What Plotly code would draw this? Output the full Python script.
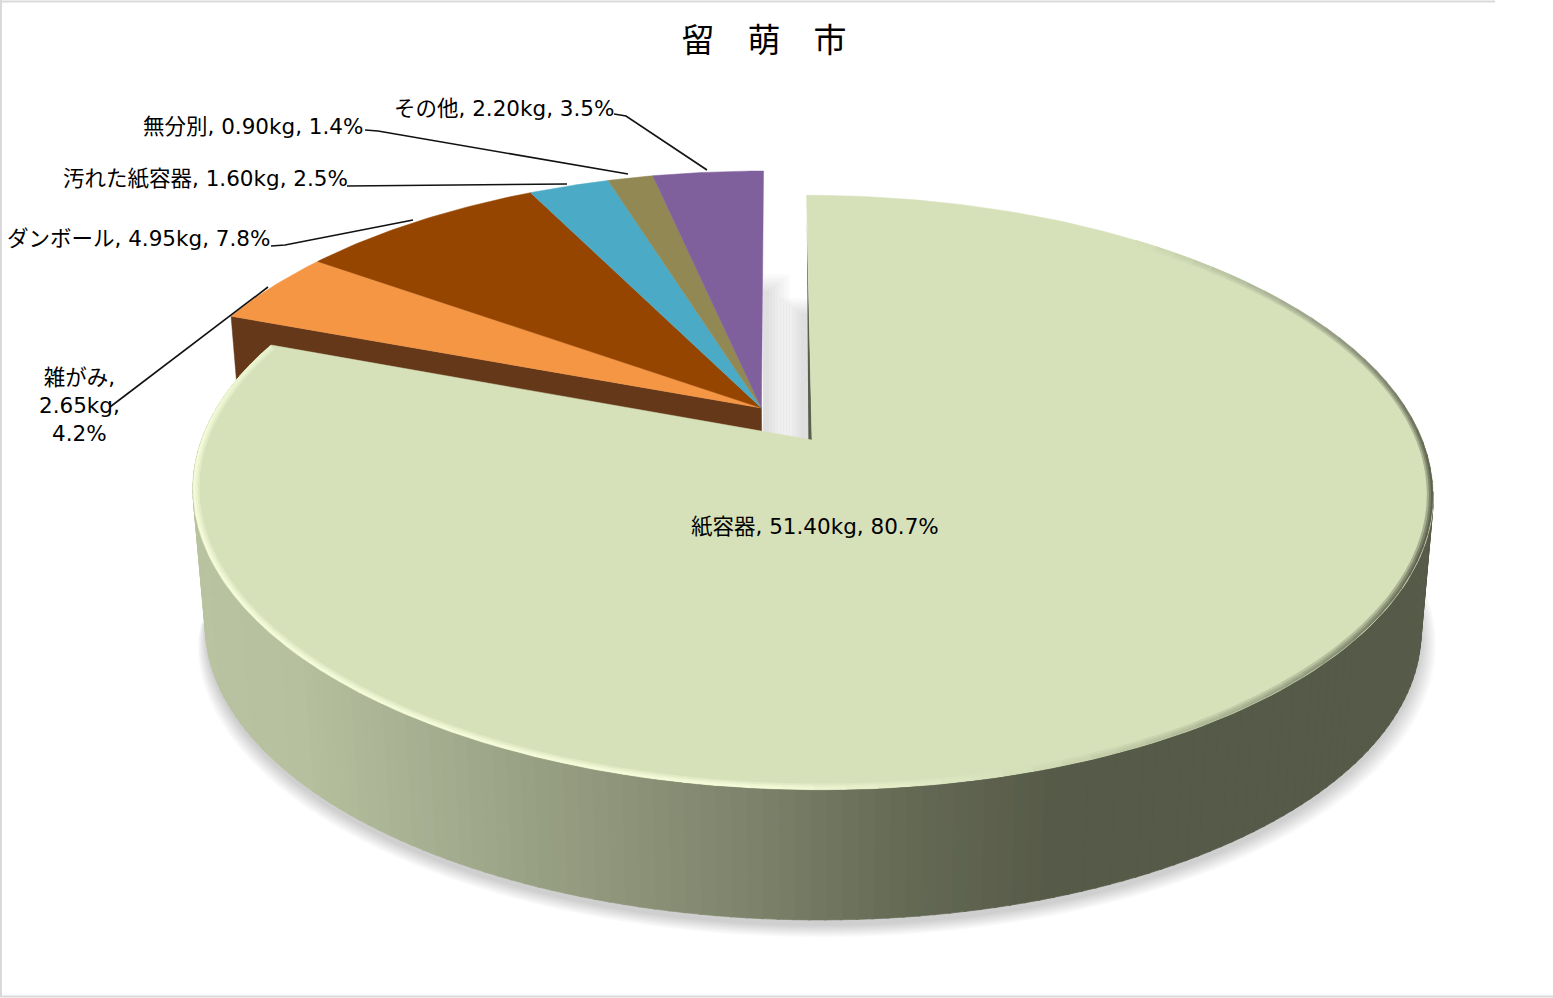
import numpy as np
import plotly.graph_objects as go

# ---- data ----
categories = ["紙容器", "雑がみ", "ダンボール", "汚れた紙容器", "無分別", "その他"]
weights_kg = [51.40, 2.65, 4.95, 1.60, 0.90, 2.20]
percents = [80.7, 4.2, 7.8, 2.5, 1.4, 3.5]
slice_colors = ["#d6e1ba", "#f59645", "#954500", "#4baac5", "#928853", "#7f609d"]
title_text = "留　萌　市"

# ---- layout constants (pixel-like axis units) ----
label_xy = [(815, 526), (79, 405), (138, 238), (205, 178), (253, 126), (504, 108)]
label_lines = [
    None,
    [(110, 407), (268, 287)],
    [(271, 246), (285, 245), (413, 220)],
    [(347, 186), (567, 184)],
    [(365, 130), (378, 131), (628, 174)],
    [(614, 114), (626, 116), (707, 170)],
]
FONT = "DejaVu Sans, Noto Sans CJK JP"
TITLE_FONT = "Noto Sans CJK JP"
A, B, K, XC, X0, Y0 = 610.5, 288.0, 0.1765, 775.5, 36.5, 440.0
GROUP_OFFSET = (-0.0833, 0.1133)
GROUP_R = 1.005
BX, BS, BY = 815.0, 0.98, 146.0


def project(u, v):
    w = 1 + K * np.asarray(v)
    return XC + (X0 + A * np.asarray(u)) / w, Y0 - B * np.asarray(v) / w


def drop(x, y):
    return BX + (np.asarray(x) - BX) * BS, np.asarray(y) * BS + BY


def arc(t0, t1, offset=(0.0, 0.0), n=120, r=1.0):
    t = np.radians(np.linspace(t0, t1, n))
    return project(offset[0] + r * np.sin(t), offset[1] + r * np.cos(t))


def hexrgb(c):
    return np.array([int(c[i:i + 2], 16) for i in (1, 3, 5)], float)


def mix(a, b, t):
    v = hexrgb(a) * (1 - t) + hexrgb(b) * t
    return "#%02x%02x%02x" % tuple(int(x) for x in v.round())


def poly(x, y, fill, line=None, lw=0.0):
    return go.Scatter(
        x=list(x), y=list(y), mode="lines", fill="toself", fillcolor=fill,
        line=dict(color=line or "rgba(0,0,0,0)", width=lw), hoverinfo="skip",
        showlegend=False,
    )


total = sum(weights_kg)
edges = np.concatenate([[0], np.cumsum(weights_kg)]) / total * 360.0
traces = []

# soft shadow under the big slice (only its near side shows; tapers out at both ends)
ax_all, ay_all = arc(0, 360, n=240)
full_x, full_y = drop(ax_all, ay_all)
cx_b = (full_x.max() + full_x.min()) / 2
cy_b = (full_y.max() + full_y.min()) / 2
near_x, near_y = drop(*arc(85, 262, n=160))
taper = np.sin(np.linspace(0, np.pi, 160)) ** 0.45
for i in range(16, 0, -1):
    grow = 1 + i * 0.0027 * taper
    traces.append(poly(cx_b + (near_x - cx_b) * grow, cy_b + (near_y - cy_b) * grow + 5 * taper,
                       "rgba(120,120,120,0.019)"))

# shadows inside the gap between the slices
for i in range(8):
    traces.append(poly([763, 790 - i * 3, 790 - i * 3, 763, 763],
                       [274 + i * 2.4, 274 + i * 2.4, 446, 446, 274 + i * 2.4],
                       "rgba(120,120,120,0.028)"))
    traces.append(poly([780 + i * 3, 809, 809, 780 + i * 3, 780 + i * 3],
                       [298 + i * 2.2, 298 + i * 2.2, 446, 446, 298 + i * 2.2],
                       "rgba(120,120,120,0.028)"))

# end wall of the exploded group
ox, oy = project(GROUP_OFFSET[0], GROUP_OFFSET[1])
ex, ey = project(GROUP_OFFSET[0] + GROUP_R * np.sin(np.radians(edges[1])),
                 GROUP_OFFSET[1] + GROUP_R * np.cos(np.radians(edges[1])))
dex, dey = drop(ex, ey)
dox, doy = drop(ox, oy)
traces.append(poly([ex, ox, dox, dex, ex], [ey, oy, doy, dey, ey], "#643818", "#643818", 0.5))

# top faces of the exploded group
for i in range(1, len(categories)):
    ax_, ay_ = arc(edges[i], edges[i + 1], GROUP_OFFSET, n=40, r=GROUP_R)
    traces.append(poly([ox, *ax_, ox], [oy, *ay_, oy], slice_colors[i], slice_colors[i], 0.5))

# cylinder wall of the big slice, shaded across the screen
stops_x = [195, 300, 400, 520, 740, 900, 1050, 1440]
stops_c = ["#b9c3a1", "#b6c09e", "#a9b394", "#9aa285", "#7f846c", "#656a55", "#565a48", "#565a48"]
wall_t = np.linspace(100, 285, 150)
for t0, t1 in zip(wall_t[:-1], wall_t[1:]):
    qx, qy = arc(t0, t1 + 0.2, n=2)
    dx_, dy_ = drop(qx, qy)
    mx = (qx.mean() + dx_.mean()) / 2
    j = min(np.searchsorted(stops_x, mx), len(stops_x) - 1)
    j = max(j, 1)
    f = np.clip((mx - stops_x[j - 1]) / (stops_x[j] - stops_x[j - 1]), 0, 1)
    col = mix(stops_c[j - 1], stops_c[j], f)
    traces.append(poly([qx[0], qx[1], dx_[1], dx_[0], qx[0]],
                       [qy[0], qy[1], dy_[1], dy_[0], qy[0]], col, col, 0.7))

# thin start wall of the big slice
sx0, sy0 = project(0, 0)
sx1, sy1 = project(0, 1)
traces.append(poly([sx0, sx1 + 0.3, sx0 - 3.6, sx0], [sy0 + 1, sy1 + 25, sy0 + 1, sy0 + 1], "#5a5e4b"))

# top face of the big slice
ax_, ay_ = arc(edges[0], edges[1], n=260)
traces.append(poly([sx0, *ax_, sx0], [sy0, *ay_, sy0], slice_colors[0], slice_colors[0], 0.5))

# bevel along the rim
base = slice_colors[0]


def rim_color(t):
    if t < 60:
        return mix(base, "#a3aa91", (t - 38) / 22)
    if t < 112:
        return mix("#a3aa91", "#5f6350", min((t - 60) / 35, 1))
    if t < 165:
        return mix("#5f6350", base, (t - 112) / 53)
    if t < 185:
        return mix(base, "#f5fbd9", (t - 165) / 20)
    if t < 268:
        return "#f5fbd9"
    return mix("#f5fbd9", "#e9f3cf", min((t - 268) / 20, 1))


def rim_radius(t, width):
    # keep the outer edge of the stroke just inside the top face
    rad = np.radians(t)
    v_scale = B / (1 + K * np.cos(rad)) ** 2
    normal_px = 1 / np.hypot(np.sin(rad) / A, np.cos(rad) / v_scale)
    return 1 - (width / 2 + 0.2) / normal_px


rim_t = np.arange(38, edges[1] - 0.5, 2.5)
for width, strength in [(6.0, 0.4), (4.0, 0.75), (2.0, 1.0)]:
    for t0 in rim_t:
        t1 = min(t0 + 2.7, edges[1] - 0.4)
        c = mix(base, rim_color(t0 + 1.2), strength)
        x_o, y_o = arc(t0, t1, n=3, r=rim_radius(t0 + 1.3, width))
        traces.append(go.Scatter(x=list(x_o), y=list(y_o), mode="lines",
                                 line=dict(color=c, width=width),
                                 hoverinfo="skip", showlegend=False))

# leader lines
for seg in label_lines:
    if seg:
        traces.append(go.Scatter(x=[p[0] for p in seg], y=[p[1] for p in seg], mode="lines",
                                 line=dict(color="#111111", width=1.6), hoverinfo="skip", showlegend=False))

fig = go.Figure(traces)

# data labels
annotations = []
for i, cat in enumerate(categories):
    kg = f"{weights_kg[i]:.2f}kg"
    pct = f"{percents[i]:.1f}%"
    text = f"{cat},<br>{kg},<br>{pct}" if i == 1 else f"{cat}, {kg}, {pct}"
    annotations.append(dict(x=label_xy[i][0], y=label_xy[i][1], xref="x", yref="y", text=text,
                            showarrow=False, xanchor="center", yanchor="middle",
                            font=dict(family=FONT, size=21.5, color="#000000")))

frame = dict(type="line", xref="x", yref="y", line=dict(color="#d9d9d9", width=2), layer="below")
shapes = [
    dict(frame, x0=1, x1=1, y0=0, y1=997),
    dict(frame, x0=0, x1=1553, y0=996.5, y1=996.5),
    dict(frame, x0=0, x1=1495, y0=1.5, y1=1.5),
]

fig.update_layout(
    width=1553, height=998, margin=dict(l=0, r=0, t=0, b=0),
    paper_bgcolor="white", plot_bgcolor="white", showlegend=False,
    title=dict(text=title_text, x=764 / 1553, y=1 - 40 / 998, xanchor="center", yanchor="middle",
               xref="paper", yref="paper", font=dict(family=TITLE_FONT, size=33, color="#000000")),
    xaxis=dict(range=[0, 1553], visible=False, fixedrange=True),
    yaxis=dict(range=[998, 0], visible=False, fixedrange=True),
    annotations=annotations, shapes=shapes,
)

fig.write_html("out.html", config={"displayModeBar": False},
               post_script="document.body.style.margin='0';document.body.style.overflow='hidden';")
